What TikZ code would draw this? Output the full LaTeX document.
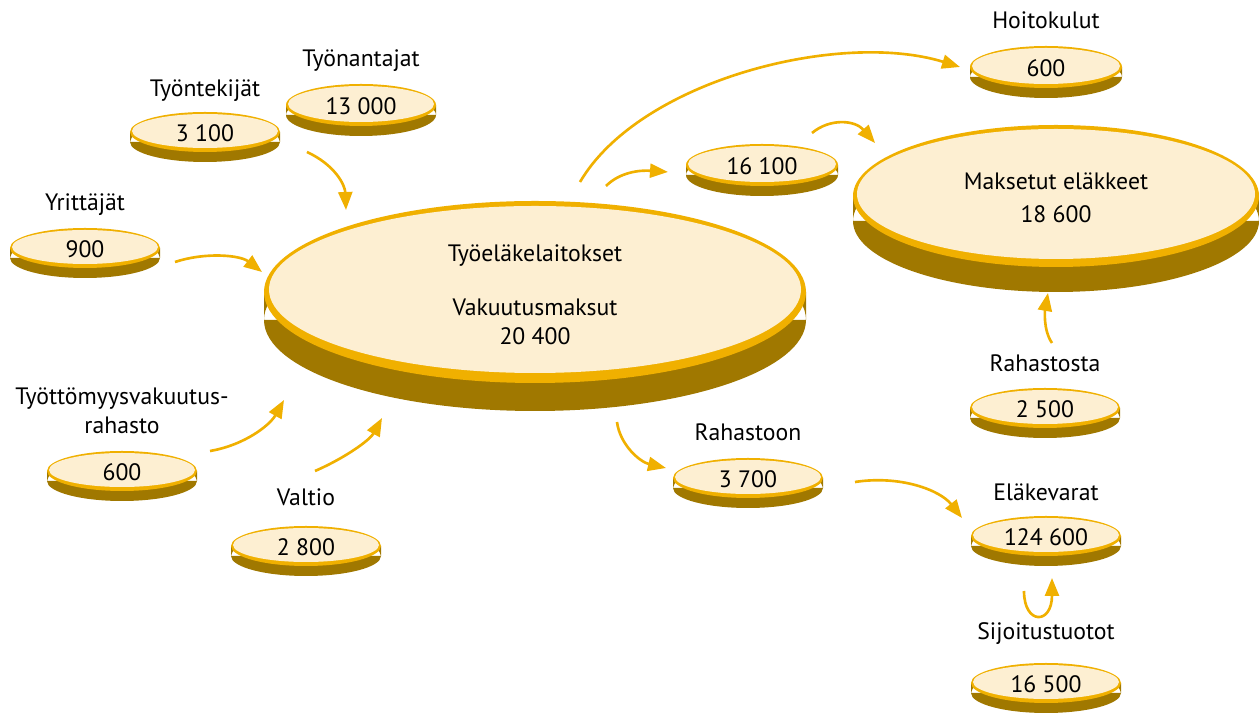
\documentclass[tikz,border=0pt]{standalone}
\usepackage{fontspec}
\setmainfont{PT Sans}
\usepackage{xcolor}
\usepackage{tikz}
\usetikzlibrary{
    shapes.geometric,
    arrows.meta,
    positioning
}
\definecolor{coinface}{RGB}{253,239,210}
\definecolor{coinrim}{RGB}{240,176,0}
\definecolor{coinside}{RGB}{160,120,0}
\tikzstyle{coin} = [
    ellipse,
    inner sep=0pt,
    align=center
]
\tikzstyle{lbl} = [
    align=center
]
\tikzstyle{flow} = [
    draw=coinrim,
    line width=1.5pt,
    -{Triangle[length=0.36cm,width=0.28cm]}
]
% name, x, y, x radius, y radius, depth, rim, text
\newcommand{\coin}[8]{%
    \fill[coinside] (#2,#3+#6) ellipse [x radius=#4, y radius=#5]
        (#2-#4,#3) rectangle (#2+#4,#3+#6);
    \fill[coinrim] (#2,#3) ellipse [x radius=#4, y radius=#5];
    \fill[coinface] (#2,#3-#7/2) ellipse [x radius=#4-#7, y radius=#5-1.5*#7];
    \node[coin, minimum width={(2*#4-2*#7)*0.02cm},
        minimum height={(2*#5-3*#7)*0.02cm}] (#1) at (#2,#3+#7/2) {#8};
}

\begin{document}
\begin{tikzpicture}[
        x=0.02cm, y=-0.02cm,
        font=\fontsize{13.5}{16.5}\selectfont
    ]
    \useasboundingbox (0,0) rectangle (1259,715);

    \coin{tyontekijat}{205}{132}{75}{20}{10}{2}{3 100}
    \coin{tyonantajat}{361}{105}{75}{21}{10}{2}{13 000}
    \coin{yrittajat}{85}{248}{75}{20}{10}{2}{900}
    \coin{tvr}{122}{471}{75}{20}{10}{2}{600}
    \coin{valtio}{306}{546}{75}{20}{10}{2}{2 800}
    \coin{tyoelake}{535}{292}{271}{91}{28}{5}{Työeläkelaitokset\\[14pt]Vakuutusmaksut\\20 400}
    \coin{maksut}{762}{165}{76}{21}{10}{2}{16 100}
    \coin{hoitokulut}{1046}{67}{76}{21}{10}{2}{600}
    \coin{elakkeet}{1056}{196}{203}{71}{25}{4}{Maksetut eläkkeet\\[2pt]18 600}
    \coin{rahastosta}{1045}{408}{75}{20}{10}{2}{2 500}
    \coin{rahastoon}{748}{478}{75}{20}{10}{2}{3 700}
    \coin{elakevarat}{1046}{536}{75}{20}{10}{2}{124 600}
    \coin{sijoitus}{1046}{683}{75}{20}{10}{2}{16 500}

    \node[lbl] (l-tyontekijat) at (205,91) {Työntekijät};
    \node[lbl] (l-tyonantajat) at (361,61) {Työnantajat};
    \node[lbl] (l-yrittajat) at (85,205) {Yrittäjät};
    \node[lbl] (l-tvr) at (122,411) {Työttömyysvakuutus-\\rahasto};
    \node[lbl] (l-valtio) at (306,497) {Valtio};
    \node[lbl] (l-hoitokulut) at (1046,20) {Hoitokulut};
    \node[lbl] (l-rahastosta) at (1045,363) {Rahastosta};
    \node[lbl] (l-rahastoon) at (748,432) {Rahastoon};
    \node[lbl] (l-elakevarat) at (1046,492) {Eläkevarat};
    \node[lbl] (l-sijoitus) at (1046,634) {Sijoitustuotot};

    \coordinate (s1) at (307,152);  \coordinate (e1) at (346,210);
    \coordinate (s2) at (175,262);  \coordinate (e2) at (262,272);
    \coordinate (s3) at (210,451);  \coordinate (e3) at (284,400);
    \coordinate (s4) at (315,471);  \coordinate (e4) at (382,418);
    \coordinate (s5) at (606,186);  \coordinate (e5) at (668,172);
    \coordinate (s6) at (580,182);  \coordinate (e6) at (960,67);
    \coordinate (s7) at (812,133);  \coordinate (e7) at (875,143);
    \coordinate (s8) at (617,422);  \coordinate (e8) at (666,468);
    \coordinate (s9) at (855,482);  \coordinate (e9) at (962,518);
    \coordinate (s10) at (1052,343); \coordinate (e10) at (1048,293);
    \coordinate (s11) at (1024,591); \coordinate (e11) at (1052,578);

    \draw[flow] (s1) .. controls (335,165) and (345,185) .. (e1);
    \draw[flow] (s2) .. controls (205,252) and (240,255) .. (e2);
    \draw[flow] (s3) .. controls (245,445) and (270,425) .. (e3);
    \draw[flow] (s4) .. controls (345,458) and (370,440) .. (e4);
    \draw[flow] (s5) .. controls (620,172) and (640,170) .. (e5);
    \draw[flow] (s6) .. controls (640,80) and (840,30) .. (e6);
    \draw[flow] (s7) .. controls (830,118) and (855,120) .. (e7);
    \draw[flow] (s8) .. controls (620,445) and (640,462) .. (e8);
    \draw[flow] (s9) .. controls (900,475) and (940,490) .. (e9);
    \draw[flow] (s10) .. controls (1043,330) and (1045,310) .. (e10);
    \draw[flow] (s11) .. controls (1024,625) and (1052,625) .. (e11);
\end{tikzpicture}
\end{document}
